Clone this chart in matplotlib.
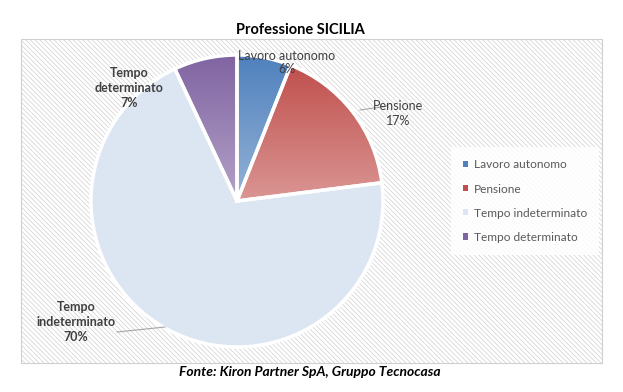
import numpy as np
import matplotlib.pyplot as plt
from matplotlib.patches import Rectangle
from matplotlib.colors import LinearSegmentedColormap

plt.rcParams['font.family'] = ['Lato', 'DejaVu Sans']
plt.rcParams['hatch.linewidth'] = 0.5
plt.rcParams['hatch.color'] = '#d8d8d8'

# dati
categorie = ['Lavoro autonomo', 'Pensione', 'Tempo indeterminato', 'Tempo determinato']
valori = [6, 17, 70, 7]
etichette = ['Lavoro autonomo\n6%', 'Pensione\n17%', 'Tempo\nindeterminato\n70%', 'Tempo\ndeterminato\n7%']
colori = ['#4F81BD', '#C0504D', '#DCE6F2', '#8064A2']
colori_chiari = ['#95B3D7', '#DA9694', '#DCE6F2', '#B3A2C7']

W, H = 623, 392
fig = plt.figure(figsize=(W / 100, H / 100), dpi=100)
ax = fig.add_axes([0, 0, 1, 1])

# cornice con tratteggio fine
ax.add_patch(Rectangle((21, H - 363), 581, 324, facecolor='white', edgecolor='#d0d0d0',
                       hatch='\\' * 7, linewidth=0.8, zorder=0))

cx, cy, r = 237, H - 201, 146
wedges, _ = ax.pie(valori, startangle=90, counterclock=False, center=(cx, cy), radius=r,
                   colors=colori, frame=True,
                   wedgeprops=dict(edgecolor='white', linewidth=2.5))

# gradiente verticale dentro ogni fetta
for w, c1, c2 in zip(wedges, colori, colori_chiari):
    v = w.get_path().vertices
    y0, y1 = v[:, 1].min(), v[:, 1].max()
    x0, x1 = v[:, 0].min(), v[:, 0].max()
    cmap = LinearSegmentedColormap.from_list('g', [c2, c1])
    grad = np.linspace(0, 1, 256).reshape(-1, 1)
    im = ax.imshow(grad, cmap=cmap, extent=(x0, x1, y0, y1), origin='lower',
                   aspect='auto', zorder=w.get_zorder() - 0.1)
    im.set_clip_path(w)
    w.set_facecolor('none')

ax.set_xlim(0, W)
ax.set_ylim(0, H)
ax.set_aspect('auto')
ax.axis('off')

testo = '#404040'
# etichette dei dati
ax.text(287, H - 62, etichette[0], ha='center', va='center', fontsize=9, color=testo, linespacing=1.1)
ax.text(398, H - 113, etichette[1], ha='center', va='center', fontsize=9, color=testo, linespacing=1.3)
ax.plot([360, 388], [H - 110, H - 106], color='#a6a6a6', linewidth=0.8)
ax.text(76, H - 322, etichette[2], ha='center', va='center', fontsize=9, color=testo,
        fontweight='bold', linespacing=1.3)
ax.plot([117, 165], [H - 332, H - 327], color='#a6a6a6', linewidth=0.8)
ax.text(129, H - 88, etichette[3], ha='center', va='center', fontsize=9, color=testo,
        fontweight='bold', linespacing=1.3)

# titolo e fonte
ax.text(300, H - 30, 'Professione SICILIA', ha='center', va='center', fontsize=10.5,
        fontweight='bold', color='black')
ax.text(310, H - 372, 'Fonte: Kiron Partner SpA, Gruppo Tecnocasa', ha='center', va='center',
        fontsize=10, fontweight='bold', fontstyle='italic', color='black')

# legenda
handles = [Rectangle((0, 0), 1, 1, facecolor=c, edgecolor='none') for c in colori]
leg = ax.legend(handles, categorie, loc='upper left', bbox_to_anchor=(455 / W, 1 - 151 / H),
                fontsize=8.6, frameon=True, handlelength=0.4, handleheight=0.4,
                handletextpad=0.5, labelspacing=1.1, borderpad=0.7, borderaxespad=0)
leg.get_frame().set_facecolor('white')
leg.get_frame().set_alpha(0.85)
leg.get_frame().set_edgecolor('none')
leg.get_frame().set_boxstyle('square')
for t in leg.get_texts():
    t.set_color('#595959')

fig.savefig('out.png', dpi=100)
